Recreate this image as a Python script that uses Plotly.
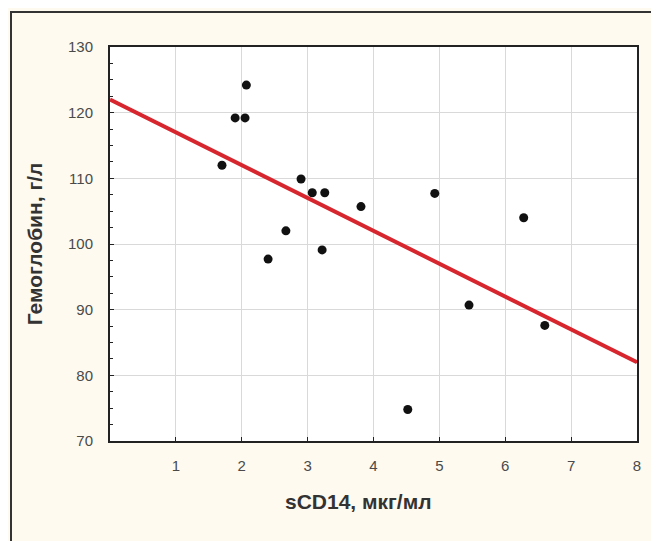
import plotly.graph_objects as go

# Data
scd14 = [1.70, 2.07, 1.90, 2.05, 2.90, 3.07, 3.26, 2.67, 2.40, 3.22, 3.81, 4.93, 6.28, 5.45, 6.60, 4.52]
hemoglobin = [112.0, 124.2, 119.2, 119.2, 109.9, 107.8, 107.8, 102.0, 97.7, 99.1, 105.7, 107.7, 104.0, 90.7, 87.6, 74.8]

fit_intercept = 122.0
fit_slope = -5.0
x_range = [0, 8]
y_range = [70, 130]
x_ticks = [1, 2, 3, 4, 5, 6, 7, 8]
y_ticks = [70, 80, 90, 100, 110, 120, 130]
x_title = "sCD14, мкг/мл"
y_title = "Гемоглобин, г/л"

fit_x = x_range
fit_y = [fit_intercept + fit_slope * v for v in fit_x]

fig = go.Figure()
fig.add_trace(go.Scatter(
    x=fit_x, y=fit_y, mode="lines",
    line=dict(color="#d8262e", width=4),
    hoverinfo="skip", showlegend=False,
))
fig.add_trace(go.Scatter(
    x=scd14, y=hemoglobin, mode="markers",
    marker=dict(color="#111111", size=9, symbol="circle"),
    showlegend=False,
))

W, H = 659, 541
L, R, T, B = 102, 30, 39, 108
pw, ph = W - L - R, H - T - B

def px_x(p):
    return (p - L) / pw

def px_y(p):
    return (H - B - p) / ph

fig.update_layout(
    width=W, height=H,
    margin=dict(l=L, r=R, t=T, b=B),
    paper_bgcolor="#fefaf0",
    plot_bgcolor="#ffffff",
    font=dict(family="Liberation Sans, Arial, sans-serif", color="#444444"),
    shapes=[
        dict(type="rect", xref="paper", yref="paper",
             x0=px_x(3), x1=px_x(680), y0=px_y(560), y1=px_y(4),
             line=dict(color="#333333", width=2), layer="below"),
    ],
    annotations=[
        dict(text="<b>" + x_title + "</b>", xref="paper", yref="paper",
             x=px_x(350), y=px_y(493), xanchor="center", yanchor="middle",
             showarrow=False, font=dict(size=21, color="#333333")),
    ],
)

fig.update_xaxes(
    range=x_range, tickvals=x_ticks, ticktext=[str(v) for v in x_ticks],
    showgrid=True, gridcolor="#d9d9d9", gridwidth=1,
    ticks="inside", ticklen=4, tickcolor="#222222",
    showline=True, linecolor="#222222", linewidth=2, mirror=True,
    zeroline=False,
    tickfont=dict(size=15, color="#4a4a4a"),
    ticklabelstandoff=10,
)
fig.update_yaxes(
    range=y_range, tickvals=y_ticks, ticktext=[str(v) for v in y_ticks],
    showgrid=True, gridcolor="#d9d9d9", gridwidth=1,
    ticks="inside", ticklen=4, tickcolor="#222222",
    minor=dict(dtick=2.5, ticks="inside", ticklen=3, tickcolor="#222222", showgrid=False),
    showline=True, linecolor="#222222", linewidth=2, mirror=True,
    zeroline=False,
    tickfont=dict(size=15, color="#4a4a4a"),
    ticklabelstandoff=12,
    title=dict(text="<b>" + y_title + "</b>", font=dict(size=21, color="#333333"), standoff=20),
)

fig.write_html("out.html")
